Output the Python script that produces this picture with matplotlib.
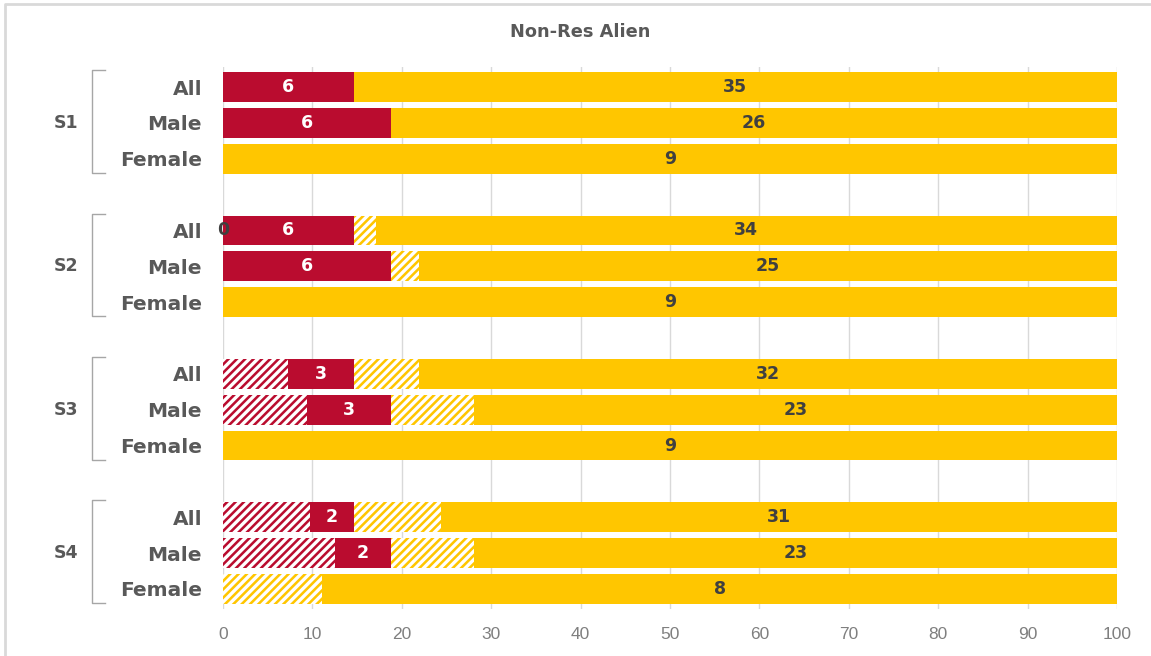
import numpy as np
import matplotlib.pyplot as plt
from matplotlib.lines import Line2D

# Counts per row: hatched red, solid red, hatched yellow, solid yellow
groups = ["S1", "S2", "S3", "S4"]
rows = ["All", "Male", "Female"]
red_hatch = [0, 0, 0, 0, 0, 0, 3, 3, 0, 4, 4, 0]
red_solid = [6, 6, 0, 6, 6, 0, 3, 3, 0, 2, 2, 0]
yel_hatch = [0, 0, 0, 1, 1, 0, 3, 3, 0, 4, 3, 1]
yel_solid = [35, 26, 9, 34, 25, 9, 32, 23, 9, 31, 23, 8]
# bars whose hatched-red count is printed
red_hatch_labeled = [3]

xticks = list(range(0, 101, 10))

RED = "#BA0C2F"
YEL = "#FFC600"
DARK = "#595959"

plt.rcParams["hatch.linewidth"] = 2.4

counts = np.array([red_hatch, red_solid, yel_hatch, yel_solid], dtype=float)
totals = counts.sum(axis=0)
pct = counts / totals * 100
lefts = np.vstack([np.zeros(len(totals)), np.cumsum(pct, axis=0)[:-1]])

ypos = np.array([g * 4 + r for g in range(len(groups)) for r in range(len(rows))])

fig = plt.figure(figsize=(11.51, 6.56), dpi=100)
ax = fig.add_axes([0.1937, 0.0721, 0.7768, 0.8253])

styles = [
    dict(color=RED, hatch="////"),
    dict(color=RED, hatch=None),
    dict(color=YEL, hatch="////"),
    dict(color=YEL, hatch=None),
]
for k, st in enumerate(styles):
    ax.barh(ypos, pct[k], left=lefts[k], height=0.83, color=st["color"],
            hatch=st["hatch"], edgecolor="white", linewidth=0, zorder=3)

# value labels on the solid segments
for i, y in enumerate(ypos):
    for k, txtcol in [(1, "white"), (3, "#404040")]:
        if counts[k, i] > 0:
            ax.text(lefts[k, i] + pct[k, i] / 2, y, f"{int(counts[k, i])}",
                    ha="center", va="center", color=txtcol, fontsize=12.5,
                    fontweight="bold", family="DejaVu Sans", zorder=5)
for i in red_hatch_labeled:
    ax.text(lefts[0, i] + pct[0, i] / 2, ypos[i], f"{int(counts[0, i])}",
            ha="center", va="center", color="#404040", fontsize=12.5,
            fontweight="bold", family="DejaVu Sans", zorder=5)

ax.set_xlim(0, 100)
ax.set_ylim(14.55, -0.55)
ax.set_xticks(xticks)
ax.tick_params(axis="x", length=0, labelsize=12.5, labelcolor="#7F7F7F", pad=13)
for lab in ax.get_xticklabels():
    lab.set_family("Liberation Sans")
ax.set_yticks(ypos)
ax.set_yticklabels(rows * len(groups))
ax.tick_params(axis="y", length=0, labelsize=14.5, labelcolor=DARK, pad=15)
for lab in ax.get_yticklabels():
    lab.set_fontweight("bold")
    lab.set_verticalalignment("center_baseline")
ax.grid(axis="x", color="#D9D9D9", linewidth=1, zorder=0)
for sp in ax.spines.values():
    sp.set_visible(False)

# group labels with brackets
trans = ax.get_yaxis_transform()
for g, name in enumerate(groups):
    y0 = g * 4 - 0.47
    y1 = g * 4 + 2 + 0.4
    xb, xe = -0.146, -0.132
    ax.add_line(Line2D([xe, xb, xb, xe], [y0, y0, y1, y1], transform=trans,
                       color="#A6A6A6", linewidth=1, clip_on=False))
    ax.text(-0.175, g * 4 + 1, name, transform=trans, ha="center",
            va="center", fontsize=12.5, fontweight="bold", color=DARK)

fig.text(0.504, 0.951, "Non-Res Alien", ha="center", va="center",
         fontsize=12.8, fontweight="bold", color=DARK)

# outer frame (top and left edges visible)
fig.add_artist(Line2D([0.0045, 0.0045, 1.0], [0.0, 0.9939, 0.9939],
                      transform=fig.transFigure, color="#D9D9D9", linewidth=2))

fig.savefig("out.png", dpi=100)
